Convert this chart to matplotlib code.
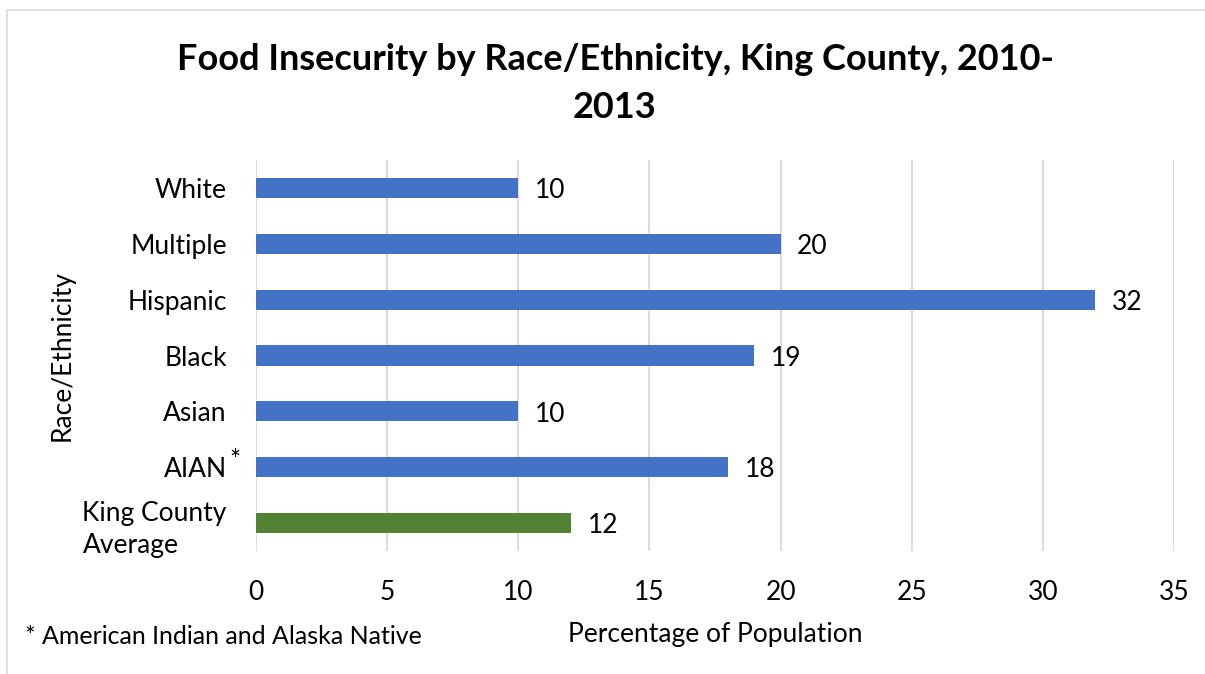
import matplotlib
matplotlib.use("Agg")
import matplotlib.pyplot as plt
from matplotlib.patches import Rectangle

plt.rcParams['font.family'] = ['Lato', 'DejaVu Sans']

categories = ["White", "Multiple", "Hispanic", "Black", "Asian", "AIAN", "King County\nAverage"]
values = [10, 20, 32, 19, 10, 18, 12]
colors = ["#4472C4"] * 6 + ["#548235"]
xticks = [0, 5, 10, 15, 20, 25, 30, 35]

W, H = 1205, 674
FS = 19
fig = plt.figure(figsize=(W / 100, H / 100), dpi=100)
fig.patch.set_facecolor("white")

# chart frame
fig.patches.append(Rectangle((7 / W, -0.1), 1.2, 1 - 10 / H + 0.1, transform=fig.transFigure,
                             fill=False, edgecolor="#d9d9d9", linewidth=1.2))

ax = fig.add_axes([256 / W, 1 - 551 / H, (1174 - 256) / W, (551 - 160) / H])
y = list(range(len(categories)))
ax.barh(y, values, height=0.36, color=colors, zorder=3)
ax.set_ylim(len(categories) - 0.5, -0.5)
ax.set_xlim(0, 35)
ax.set_xticks(xticks)
ax.set_xticklabels([str(t) for t in xticks])
ax.set_yticks(y)
ax.set_yticklabels(categories, multialignment="left", linespacing=1.35)
ax.tick_params(axis="both", length=0, labelsize=FS, colors="black")
ax.tick_params(axis="x", pad=21)
ax.tick_params(axis="y", pad=21)
ax.grid(axis="x", color="#d9d9d9", linewidth=1.3, zorder=0)
for s in ax.spines.values():
    s.set_visible(False)

for yi, v in zip(y, values):
    ax.annotate(str(v), (v, yi), xytext=(12, -2), textcoords="offset points",
                ha="left", va="center", fontsize=FS)

# superscript marker on AIAN
ax.annotate("*", (0, 5), xytext=(-15, 4), textcoords="offset points",
            ha="center", va="center", fontsize=FS)

ax.set_xlabel("Percentage of Population", fontsize=FS, labelpad=12)
ax.set_ylabel("Race/Ethnicity", fontsize=FS, labelpad=6)

fig.text(615 / W, 1 - 70 / H, "Food Insecurity by Race/Ethnicity, King County, 2010-",
         ha="center", va="baseline", fontsize=26, fontweight="bold")
fig.text(615 / W, 1 - 118 / H, "2013", ha="center", va="baseline", fontsize=26, fontweight="bold")
fig.text(25 / W, 1 - 637 / H, "* American Indian and Alaska Native", ha="left", va="center", fontsize=18)

fig.savefig("out.png", dpi=100)
